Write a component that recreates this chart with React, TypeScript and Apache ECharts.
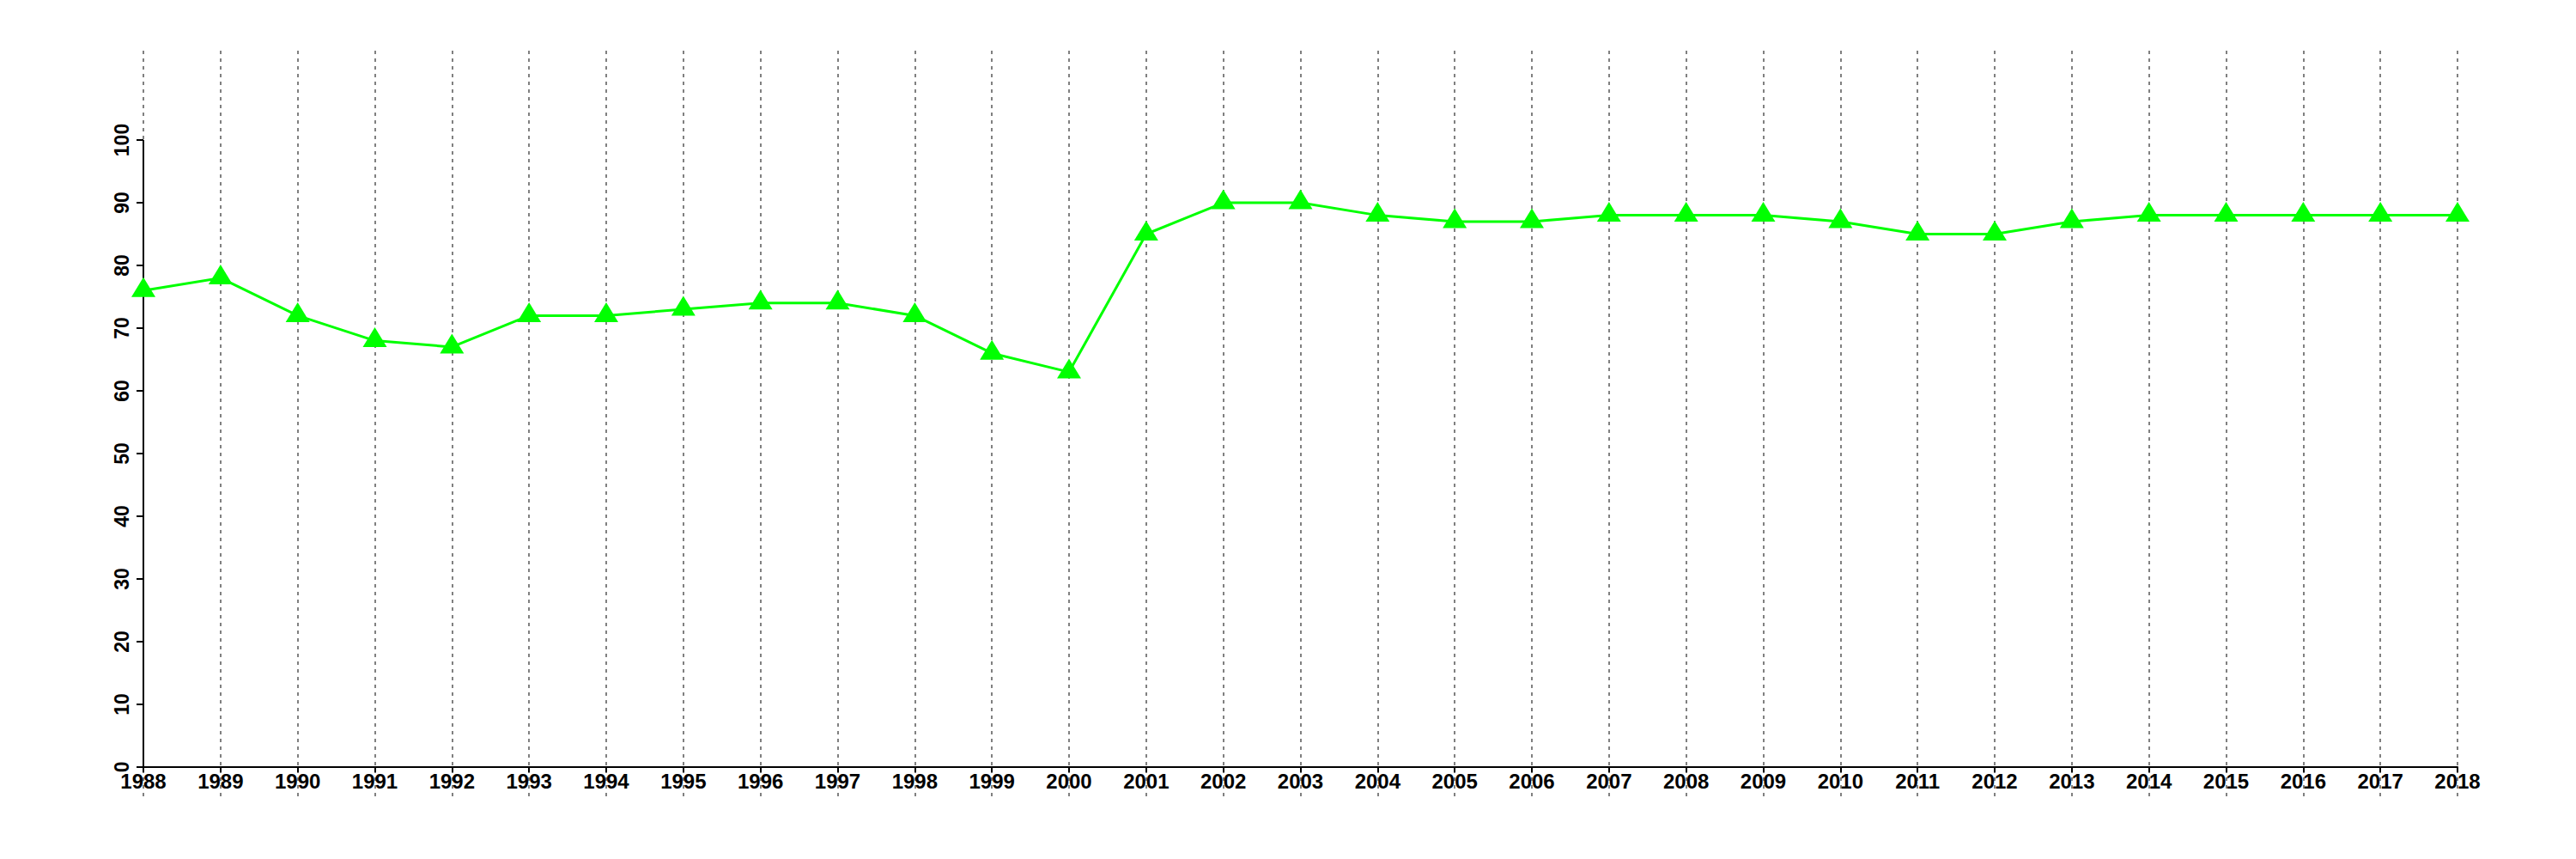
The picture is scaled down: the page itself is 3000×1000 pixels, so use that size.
import React, { useEffect, useRef } from "react";
import * as echarts from "echarts";

const years: string[] = [
  "1988", "1989", "1990", "1991", "1992", "1993", "1994", "1995", "1996", "1997",
  "1998", "1999", "2000", "2001", "2002", "2003", "2004", "2005", "2006", "2007",
  "2008", "2009", "2010", "2011", "2012", "2013", "2014", "2015", "2016", "2017", "2018",
];
const values: number[] = [
  76, 78, 72, 68, 67, 72, 72, 73, 74, 74,
  72, 66, 63, 85, 90, 90, 88, 87, 87, 88,
  88, 88, 87, 85, 85, 87, 88, 88, 88, 88, 88,
];
const yTicks: number[] = [0, 10, 20, 30, 40, 50, 60, 70, 80, 90, 100];

export default function App() {
  const ref = useRef<HTMLDivElement>(null);
  useEffect(() => {
    if (!ref.current) return;
    const chart = echarts.init(ref.current, null, { renderer: "svg" });
    const font = "'Liberation Sans', Arial, Helvetica, sans-serif";
    chart.setOption({
      animation: false,
      backgroundColor: "#ffffff",
      grid: { left: 167, right: 138, top: 59, bottom: 73, containLabel: false },
      xAxis: {
        type: "category",
        data: years,
        boundaryGap: false,
        axisLine: { show: true, onZero: true, lineStyle: { color: "#000", width: 2 } },
        axisTick: { show: true, length: 6, lineStyle: { color: "#000", width: 2 }, interval: 0 },
        axisLabel: {
          interval: 0,
          color: "#000",
          fontFamily: font,
          fontWeight: "bold",
          fontSize: 24,
          margin: -30,
        },
        splitLine: {
          show: true,
          interval: 0,
          lineStyle: { color: "#808080", width: 2, type: [4, 5] },
        },
      },
      yAxis: {
        type: "value",
        min: -4.66,
        max: 114.25,
        axisLine: { show: false },
        axisTick: {
          show: true,
          length: 8,
          customValues: yTicks,
          lineStyle: { color: "#000", width: 2 },
        },
        axisLabel: {
          customValues: yTicks,
          rotate: 90,
          color: "#000",
          fontFamily: font,
          fontWeight: "bold",
          fontSize: 23,
          margin: 14,
        },
        splitLine: { show: false },
      },
      series: [
        {
          type: "line",
          data: values,
          symbol: "triangle",
          symbolSize: [28, 23],
          symbolOffset: [0, -4],
          lineStyle: { color: "#00ff00", width: 3 },
          itemStyle: { color: "#00ff00" },
          z: 5,
          markLine: {
            silent: true,
            symbol: "none",
            label: { show: false },
            lineStyle: { color: "#000", width: 2, type: "solid" },
            data: [[{ coord: [0, 0] }, { coord: [0, 100] }]],
            z: 3,
          },
        },
      ],
    });
    return () => chart.dispose();
  }, []);
  return (
    <div
      ref={ref}
      style={{ position: "fixed", left: 0, top: 0, width: 3000, height: 1000 }}
    />
  );
}
